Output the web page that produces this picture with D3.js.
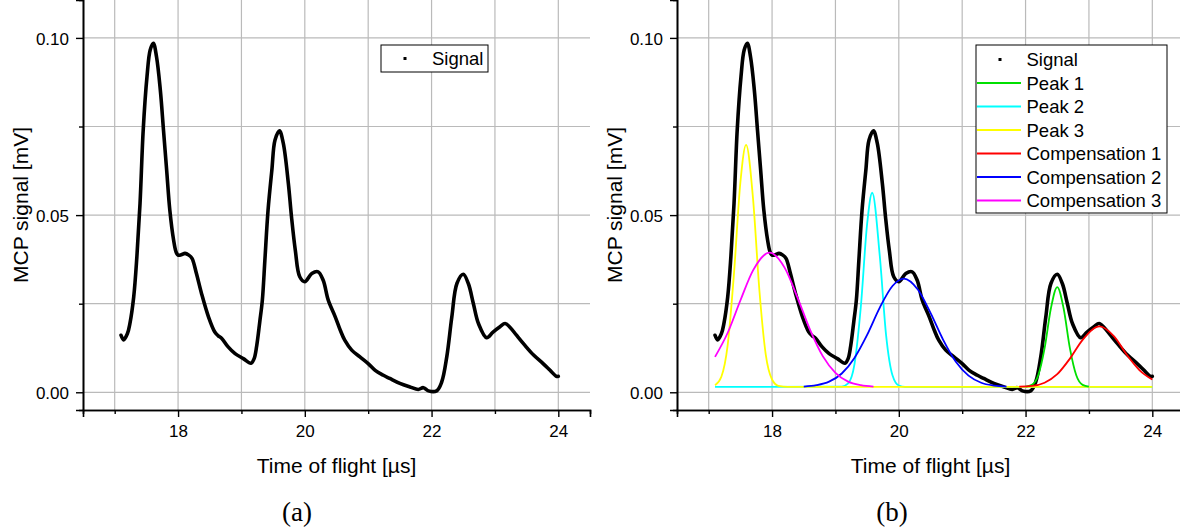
<!DOCTYPE html>
<html>
<head>
<meta charset="utf-8">
<script src="https://cdn.jsdelivr.net/npm/d3@7/dist/d3.min.js"></script>
<style>
  html, body { margin: 0; padding: 0; background: #fff; }
  svg { display: block; }
  text { font-family: Arial, "Liberation Sans", sans-serif; fill: #000; }
  text.caption { font-family: "Liberation Serif", "DejaVu Serif", serif; }
</style>
</head>
<body>
<svg id="fig" width="1180" height="530"></svg>
<script>
// MCP time-of-flight trace: [time (µs), signal (mV)]
const signal = [
  [17.10,.0161],[17.14,.0148],[17.20,.0165],[17.24,.0194],[17.30,.0269],[17.35,.0382],
  [17.40,.0533],[17.45,.0740],[17.51,.0891],[17.56,.0966],[17.61,.0985],[17.66,.0947],
  [17.72,.0853],[17.77,.0740],[17.82,.0627],[17.87,.0514],[17.93,.0429],[17.97,.0395],
  [18.00,.0387],[18.05,.0388],[18.11,.0392],[18.17,.0387],[18.22,.0378],[18.29,.0335],
  [18.37,.0279],[18.48,.0213],[18.58,.0170],[18.63,.0160],[18.69,.0152],[18.79,.0128],
  [18.90,.0109],[19.03,.0095],[19.15,.0082],[19.20,.0095],[19.24,.0130],[19.29,.0200],
  [19.33,.0260],[19.37,.0373],[19.42,.0514],[19.48,.0627],[19.53,.0712],[19.60,.0738],
  [19.66,.0703],[19.74,.0590],[19.79,.0495],[19.85,.0401],[19.92,.0326],[20.00,.0312],
  [20.11,.0335],[20.21,.0340],[20.29,.0316],[20.37,.0260],[20.48,.0213],[20.56,.0175],
  [20.63,.0147],[20.74,.0119],[20.87,.0100],[21.00,.0081],[21.11,.0062],[21.24,.0048],
  [21.34,.0039],[21.50,.0025],[21.66,.0015],[21.79,.0008],[21.87,.0013],[21.95,.0004],
  [22.08,.0004],[22.16,.0029],[22.24,.0100],[22.32,.0213],[22.40,.0307],[22.50,.0333],
  [22.58,.0307],[22.66,.0250],[22.74,.0194],[22.87,.0154],[22.97,.0170],[23.08,.0185],
  [23.16,.0194],[23.24,.0183],[23.34,.0161],[23.47,.0133],[23.61,.0105],[23.76,.0081],
  [23.87,.0062],[23.97,.0045],[24.00,.0045]
];

// Fitted components
const peak1 = [
  [22.00,.0016],[22.10,.0021],[22.20,.0048],[22.30,.0124],[22.40,.0237],[22.50,.0297],
  [22.60,.0237],[22.70,.0124],[22.80,.0048],[22.90,.0021],[23.00,.0016]
];
const peak2 = [
  [17.10,.0015],[19.10,.0016],[19.20,.0025],[19.30,.0079],[19.40,.0240],[19.50,.0475],
  [19.58,.0563],[19.70,.0384],[19.80,.0160],[19.90,.0048],[20.00,.0019],[20.10,.0015],
  [24.00,.0015]
];
const peak3 = [
  [17.10,.0020],[17.20,.0044],[17.30,.0134],[17.40,.0337],[17.50,.0592],[17.59,.0698],
  [17.70,.0546],[17.80,.0288],[17.90,.0107],[18.00,.0036],[18.10,.0018],[18.25,.0015],
  [24.00,.0015]
];
const comp1 = [
  [21.90,.0016],[22.10,.0018],[22.30,.0027],[22.50,.0051],[22.70,.0095],[22.90,.0148],
  [23.17,.0186],[23.40,.0157],[23.60,.0105],[23.80,.0062],[24.00,.0036]
];
const comp2 = [
  [18.50,.0016],[18.70,.0020],[18.90,.0030],[19.10,.0053],[19.30,.0097],[19.50,.0162],
  [19.70,.0239],[19.90,.0300],[20.08,.0321],[20.30,.0290],[20.50,.0224],[20.70,.0148],
  [20.90,.0086],[21.10,.0047],[21.30,.0027],[21.50,.0019],[21.70,.0016]
];
const comp3 = [
  [17.10,.0100],[17.30,.0168],[17.50,.0259],[17.70,.0344],[17.96,.0394],[18.20,.0351],
  [18.40,.0268],[18.60,.0176],[18.80,.0102],[19.00,.0055],[19.20,.0030],[19.40,.0020],
  [19.60,.0016]
];

const fitNames  = ["Peak 1", "Peak 2", "Peak 3", "Compensation 1", "Compensation 2", "Compensation 3"];
const fitColors = ["#00e000", "#00ffff", "#ffff00", "#ff0000", "#0000ff", "#ff00ff"];
const fitSeries = [peak1, peak2, peak3, comp1, comp2, comp3];
// drawing order of the fitted curves (yellow baseline lies over the cyan one)
const drawOrder = [1, 2, 0, 3, 4, 5];

const xMajor = [18, 20, 22, 24];
const xMinor = [17, 19, 21, 23];
const yMajor = [0, 0.05, 0.10];
const yMinor = [0.025, 0.075];
const xDomain = [16.5, 24.5];
const yDomain = [-0.005, 0.1107];

const svg = d3.select("#fig");

function panel(left, caption, withFits) {
  const W = 507, H = 410;
  const g = svg.append("g").attr("transform", `translate(${left},0)`);
  const x = d3.scaleLinear().domain(xDomain).range([0, W]);
  const y = d3.scaleLinear().domain(yDomain).range([H, 0]);

  // grid
  const grid = g.append("g").attr("stroke", "#bababa").attr("stroke-width", 1.2);
  xMajor.concat(xMinor).forEach(v => grid.append("line")
    .attr("x1", x(v)).attr("x2", x(v)).attr("y1", 0).attr("y2", H));
  yMajor.concat(yMinor).forEach(v => grid.append("line")
    .attr("x1", 0).attr("x2", W).attr("y1", y(v)).attr("y2", y(v)));

  // axes
  const xAx = g.append("g").attr("transform", `translate(0,${H})`)
    .call(d3.axisBottom(x).tickValues(xMajor).tickSize(7).tickPadding(8).tickFormat(d3.format("d")));
  const xAxMinor = g.append("g").attr("transform", `translate(0,${H})`)
    .call(d3.axisBottom(x).tickValues(xMinor).tickSize(4).tickFormat(""));
  const yAx = g.append("g")
    .call(d3.axisLeft(y).tickValues(yMajor).tickSize(7).tickPadding(7).tickFormat(d3.format(".2f")));
  const yAxMinor = g.append("g")
    .call(d3.axisLeft(y).tickValues(yMinor).tickSize(4).tickFormat(""));
  [xAx, xAxMinor, yAx, yAxMinor].forEach(a => {
    a.select(".domain").attr("stroke", "#000").attr("stroke-width", 1.6);
    a.selectAll(".tick line").attr("stroke", "#000").attr("stroke-width", 1.4);
    a.selectAll(".tick text").attr("font-size", 17);
  });
  yAx.selectAll(".tick text").attr("dy", "0.36em");

  // axis titles
  g.append("text").attr("x", W / 2).attr("y", 473).attr("text-anchor", "middle")
    .attr("font-size", 21).text("Time of flight [µs]");
  g.append("text")
    .attr("x", -205).attr("y", -55).attr("text-anchor", "middle")
    .attr("transform", "rotate(-90)").attr("font-size", 21).text("MCP signal [mV]");

  const line = d3.line().x(d => x(d[0])).y(d => y(d[1]));

  g.append("path")
    .attr("d", line.curve(d3.curveCatmullRom.alpha(0.5))(signal))
    .attr("fill", "none").attr("stroke", "#000").attr("stroke-width", 3.6)
    .attr("stroke-linejoin", "round").attr("stroke-linecap", "round");

  if (withFits) {
    const fitLine = d3.line().x(d => x(d[0])).y(d => y(d[1])).curve(d3.curveMonotoneX);
    drawOrder.forEach(i => {
      g.append("path").attr("d", fitLine(fitSeries[i]))
        .attr("fill", "none").attr("stroke", fitColors[i]).attr("stroke-width", 1.8);
    });
  }

  // caption
  svg.append("text").attr("class", "caption")
    .attr("x", caption.cx).attr("y", 521).attr("text-anchor", "middle")
    .attr("font-size", 27).text(caption.label);
  return { g, x, y };
}

panel(83, { cx: 297, label: "(a)" }, false);
panel(677, { cx: 892, label: "(b)" }, true);

// legend of panel (a)
(function () {
  const lg = svg.append("g").attr("transform", "translate(381,45)");
  lg.append("rect").attr("width", 107).attr("height", 27)
    .attr("fill", "#fff").attr("stroke", "#000").attr("stroke-width", 1);
  lg.append("rect").attr("x", 22.5).attr("y", 12).attr("width", 3).attr("height", 3).attr("fill", "#000");
  lg.append("text").attr("x", 51).attr("y", 20).attr("font-size", 18.5).text("Signal");
})();

// legend of panel (b)
(function () {
  const lg = svg.append("g").attr("transform", "translate(976,45)");
  lg.append("rect").attr("width", 191).attr("height", 168)
    .attr("fill", "#fff").attr("stroke", "#000").attr("stroke-width", 1);
  const row0 = 14.5, step = 23.5;
  lg.append("rect").attr("x", 22.5).attr("y", row0 - 1.5).attr("width", 3).attr("height", 3).attr("fill", "#000");
  lg.append("text").attr("x", 50.5).attr("y", row0 + 6.5).attr("font-size", 18.5).text("Signal");
  fitNames.forEach((name, i) => {
    const cy = row0 + step * (i + 1);
    lg.append("line").attr("x1", 1).attr("x2", 45).attr("y1", cy).attr("y2", cy)
      .attr("stroke", fitColors[i]).attr("stroke-width", 2);
    lg.append("text").attr("x", 50.5).attr("y", cy + 6.5).attr("font-size", 18.5).text(name);
  });
})();
</script>
</body>
</html>
